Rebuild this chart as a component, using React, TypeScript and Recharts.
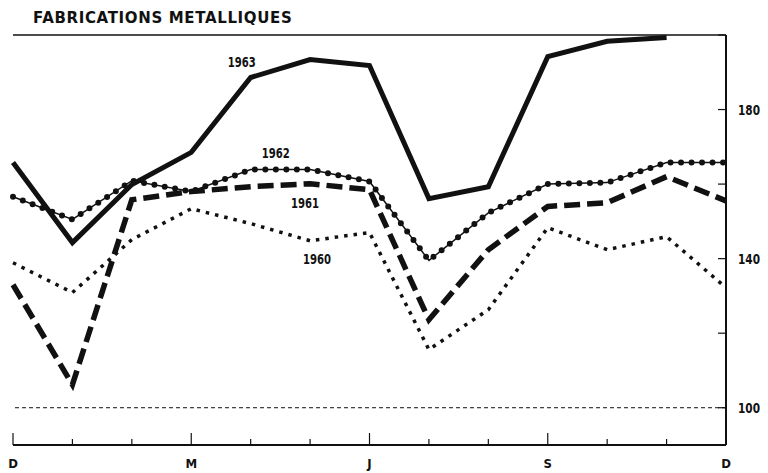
import React from 'react';
import { LineChart, Line, XAxis, YAxis, ReferenceLine, LabelList } from 'recharts';

const months = ['D', 'J', 'F', 'M', 'A', 'M', 'J', 'J', 'A', 'S', 'O', 'N', 'D'];
const shownMonths = [0, 3, 6, 9, 12];

const y1963 = [165.8, 144.3, 159.9, 168.5, 188.6, 193.4, 191.8, 156.1, 159.3, 194.2, 198.3, 199.3, null];
const y1962 = [156.6, 150.5, 160.9, 158, 163.9, 163.9, 160.7, 139.5, 152.3, 160, 160.4, 165.8, 165.8];
const y1961 = [133, 106.2, 155.8, 158, 159.3, 160.1, 158.5, 123.6, 142.4, 154, 155, 162, 155.5];
const y1960 = [138.9, 130.9, 145.1, 153.4, 149.4, 144.8, 147, 115.6, 126.3, 148.3, 142.4, 145.9, 132.2];

const rightTicks = [100, 120, 140, 160, 180, 200];
const rightLabels = [100, 140, 180];
const leftTicks = [140, 160, 180];

const data = months.map((m, i) => ({
    month: m,
    y1963: y1963[i],
    y1962: y1962[i],
    y1961: y1961[i],
    y1960: y1960[i],
}));

const ink = '#111';
const narrow = "'DejaVu Sans Condensed', 'DejaVu Sans', sans-serif";

const MonthTick = (props: any) => {
    const { x, y, payload, index } = props;
    const quarter = index % 3 === 0;
    const base = y - 14;
    return (
        <g>
            <line x1={x} x2={x} y1={base} y2={base - (quarter ? 12 : 6)} stroke={ink} strokeWidth={1.2} />
            {shownMonths.includes(index) && (
                <text x={x} y={y} dy="0.71em" textAnchor="middle" fontFamily={narrow} fontWeight="bold" fontSize={13} fill={ink}>
                    {payload.value}
                </text>
            )}
        </g>
    );
};

const ValueTick = (props: any) => {
    const { x, y, payload } = props;
    const base = x - 12;
    return (
        <g>
            <line x1={base} x2={base - 8} y1={y} y2={y} stroke={ink} strokeWidth={1.2} />
            {rightLabels.includes(payload.value) && (
                <text x={x} y={y} dy="0.36em" textAnchor="start" fontFamily={narrow} fontWeight="bold" fontSize={14}
                    textLength={22} lengthAdjust="spacingAndGlyphs" fill={ink}>
                    {payload.value}
                </text>
            )}
        </g>
    );
};

const yearLabel = (text: string, at: number, dx: number, dy: number) => (props: any) => {
    if (props.index !== at) return null;
    return (
        <text x={props.x + dx - 14} y={props.y + dy} dy="0.36em" textAnchor="start"
            fontFamily={narrow} fontWeight="bold" fontSize={14} textLength={28} lengthAdjust="spacingAndGlyphs" fill={ink}>
            {text}
        </text>
    );
};

const App = () => (
    <div style={{ position: 'absolute', left: 0, top: 0, width: 768, height: 473, background: '#fff' }}>
        <div style={{
            position: 'absolute', left: 33, top: 9, fontFamily: "'DejaVu Sans', sans-serif",
            fontWeight: 'bold', fontSize: 15, letterSpacing: 0.65, color: ink, whiteSpace: 'nowrap'
        }}>
            FABRICATIONS METALLIQUES
        </div>
        <LineChart width={768} height={473} data={data} margin={{ top: 35, right: 0, left: 13, bottom: 0 }}>
            <XAxis dataKey="month" height={28} interval={0} tickSize={0} tickMargin={14}
                tick={<MonthTick />} axisLine={{ stroke: ink, strokeWidth: 2 }} />
            <YAxis yAxisId="l" orientation="left" width={0} mirror domain={[90, 200]} ticks={leftTicks}
                tickSize={7} tick={() => <g />} axisLine={{ stroke: ink, strokeWidth: 1.5 }}
                tickLine={{ stroke: ink, strokeWidth: 1.2 }} />
            <YAxis yAxisId="r" orientation="right" width={42} domain={[90, 200]} ticks={rightTicks}
                tickSize={0} tickMargin={12} tickLine={false} tick={<ValueTick />}
                axisLine={{ stroke: ink, strokeWidth: 2 }} />
            <ReferenceLine yAxisId="r" y={200} stroke={ink} strokeWidth={1.5} />
            <ReferenceLine yAxisId="r" y={100} stroke={ink} strokeWidth={1} strokeDasharray="4 3" />

            <Line yAxisId="r" dataKey="y1960" type="linear" stroke={ink} strokeWidth={3.5}
                strokeDasharray="3.5 6" dot={false} isAnimationActive={false}>
                <LabelList dataKey="y1960" content={yearLabel('1960', 5, 7, 18)} />
            </Line>
            <Line yAxisId="r" dataKey="y1961" type="linear" stroke={ink} strokeWidth={5.5}
                strokeDasharray="16 7" dot={false} isAnimationActive={false}>
                <LabelList dataKey="y1961" content={yearLabel('1961', 5, -5, 19)} />
            </Line>
            <Line yAxisId="r" dataKey="y1962" type="linear" stroke={ink} strokeWidth={1.5}
                dot={false} isAnimationActive={false} />
            <Line yAxisId="r" dataKey="y1962" type="linear" stroke={ink} strokeWidth={6}
                strokeDasharray="0 10.5" strokeLinecap="round" dot={false} isAnimationActive={false}>
                <LabelList dataKey="y1962" content={yearLabel('1962', 4, 25, -17)} />
            </Line>
            <Line yAxisId="r" dataKey="y1963" type="linear" stroke={ink} strokeWidth={5}
                dot={false} isAnimationActive={false}>
                <LabelList dataKey="y1963" content={yearLabel('1963', 4, -9, -16)} />
            </Line>
        </LineChart>
    </div>
);

export default App;
